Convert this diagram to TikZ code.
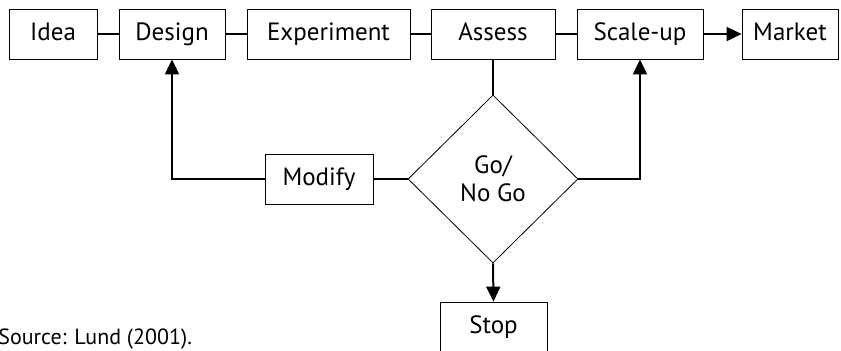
\documentclass[tikz,border=0pt]{standalone}
\usepackage{fontspec}
\setmainfont{PT Sans}
\usetikzlibrary{shapes.geometric,arrows.meta}
\tikzset{
  stagebox/.style={draw,thin,minimum height=25pt,inner sep=0pt,
    text height=8.6pt,text depth=2.4pt,font=\fontsize{12.5}{14}\selectfont},
  link/.style={line width=1pt},
  linkarrow/.style={line width=1pt,-{Triangle[length=7.5pt,width=7pt]}}
}
\begin{document}
\begin{tikzpicture}[x=0.5pt,y=-0.5pt]
    \useasboundingbox (0,0) rectangle (841,350);
    % stages along the top
    \node[stagebox,minimum width=44pt] (idea) at (53,34) {Idea};
    \node[stagebox,minimum width=53pt] (design) at (172,34) {Design};
    \node[stagebox,minimum width=81.5pt] (experiment) at (328.5,34) {Experiment};
    \node[stagebox,minimum width=62pt] (assess) at (493,34) {Assess};
    \node[stagebox,minimum width=63pt] (scaleup) at (640,34) {Scale-up};
    \node[stagebox,minimum width=48pt] (market) at (790,34) {Market};
    \draw[link] (idea) -- (design);
    \draw[link] (design) -- (experiment);
    \draw[link] (experiment) -- (assess);
    \draw[link] (assess) -- (scaleup);
    \draw[linkarrow] (scaleup) -- (market);
    % decision
    \node[draw,thin,diamond,minimum width=85pt,minimum height=84pt,inner sep=0pt,
      align=center,font=\fontsize{12.5}{14}\selectfont] (gonogo) at (493,179) {Go/\\No Go};
    \node[stagebox,minimum width=54pt] (modify) at (319,179) {Modify};
    \node[stagebox,minimum width=53.5pt] (stop) at (493.5,327) {Stop};
    \draw[link] (assess) -- (gonogo);
    \draw[link] (gonogo) -- (modify);
    \draw[linkarrow] (modify.west) -| (design.south);
    \draw[linkarrow] (gonogo.east) -| (scaleup.south);
    \draw[linkarrow] (gonogo.south) -- (stop.north);
    % source
    \node[anchor=base west,inner sep=0pt,font=\fontsize{11}{13}\selectfont]
      (source) at (-2,344) {Source: Lund (2001).};
\end{tikzpicture}
\end{document}
